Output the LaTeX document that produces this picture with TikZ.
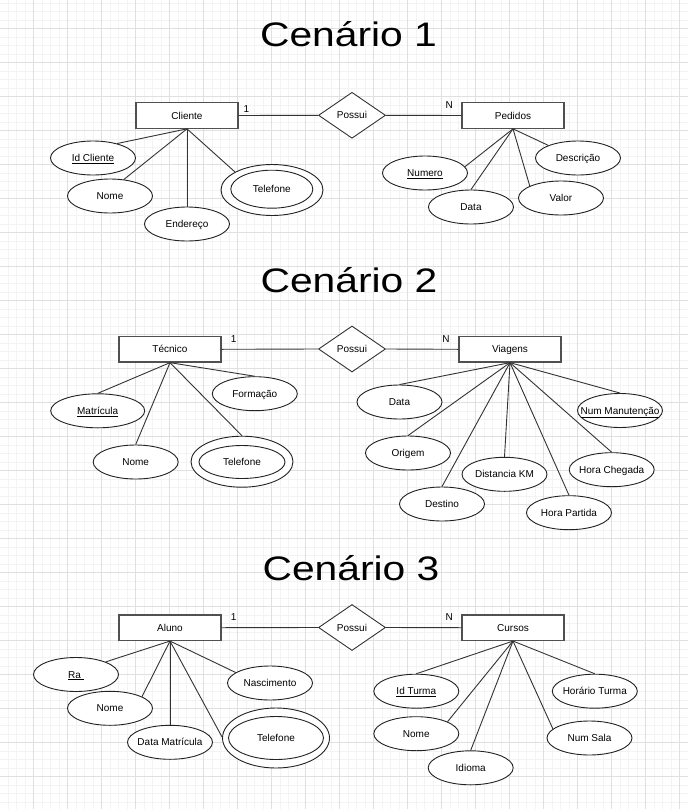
\documentclass[tikz,border=0pt]{standalone}
\usepackage{fontspec}
\setmainfont{Liberation Sans}
\usetikzlibrary{shapes.geometric}
\definecolor{majg}{HTML}{E0E0E0}
\definecolor{ming}{HTML}{F3F3F3}
\definecolor{linec}{HTML}{333333}
\definecolor{entc}{HTML}{505050}
\definecolor{attc}{HTML}{222222}
\newcommand\zb[1]{\makebox[0pt]{#1}}
\begin{document}
\begin{tikzpicture}[x=1pt,y=-1pt,
  ent/.style={rectangle, draw=entc, line width=1.2pt, minimum width=102pt, minimum height=25.5pt, inner sep=0pt, fill=white, font=\fontsize{10}{12}\selectfont, text height=7.2pt, text depth=0pt},
  rel/.style={diamond, draw=linec, line width=0.9pt, minimum width=67pt, minimum height=46pt, inner sep=0pt, fill=white, font=\fontsize{10}{12}\selectfont, text height=7.2pt, text depth=0pt},
  att/.style={ellipse, draw=attc, line width=0.9pt, minimum width=85pt, minimum height=34pt, inner sep=0pt, fill=white, font=\fontsize{10}{12}\selectfont, text height=7.2pt, text depth=0pt},
  card/.style={inner sep=0pt, font=\fontsize{10}{12}\selectfont, text height=7.2pt, text depth=0pt},
  ttl/.style={inner sep=0pt, anchor=base, font=\fontsize{34}{40}\selectfont},
  conn/.style={draw=linec, line width=0.9pt}]
\useasboundingbox (0,0) rectangle (688,809);
\fill[white] (0,0) rectangle (688,809);
% grid
\foreach \i in {0,...,81} \draw[ming, line width=0.6pt] ({-0.7+8.5*\i},0) -- ({-0.7+8.5*\i},809);
\foreach \i in {0,...,96} \draw[ming, line width=0.6pt] (0,{-5.7+8.5*\i}) -- (688,{-5.7+8.5*\i});
\foreach \i in {1,...,20} \draw[majg, line width=0.8pt] ({-0.7+34*\i},0) -- ({-0.7+34*\i},809);
\foreach \i in {1,...,24} \draw[majg, line width=0.8pt] (0,{-5.7+34*\i}) -- (688,{-5.7+34*\i});

% titles
\node[ttl] (t1) at (348.5,46.7) {\scalebox{1.2}[1]{Cenário 1}};
\node[ttl] (t2) at (349,292.5) {\scalebox{1.2}[1]{Cenário 2}};
\node[ttl] (t3) at (351,580.5) {\scalebox{1.2}[1]{Cenário 3}};

% ---------- Scenario 1
\node[ent] (cli) at (187,115.5) {Cliente};
\node[rel] (pos1) at (352,115.3) {Possui};
\node[ent] (ped) at (513,115.5) {Pedidos};
\node[card] (c1) at (246.5,108.5) {1};
\node[card] (n1) at (449.3,104.5) {N};
\node[att] (idc) at (93,158) {\zb{\underline{Id Cliente}}};
\node[att] (nom1) at (110,196) {\zb{Nome}};
\node[att] (end1) at (187,224) {\zb{Endereço}};
\node[att, minimum width=102pt, minimum height=51pt] (tel1) at (272,190) {};
\node[att, minimum width=82pt, minimum height=38pt] (tel1i) at (271.8,189.2) {\zb{Telefone}};
\node[att] (num) at (425,173) {\zb{\underline{Numero}}};
\node[att] (dat1) at (471,207) {\zb{Data}};
\node[att] (val) at (561,198) {\zb{Valor}};
\node[att] (desc) at (578,158) {\zb{Descrição}};
\draw[conn] (cli.east) -- (pos1.west);
\draw[conn] (pos1.east) -- (ped.west);
\draw[conn] (cli.south) -- (idc.31);
\draw[conn] (cli.south) -- (nom1.50);
\draw[conn] (cli.south) -- (end1.north);
\draw[conn] (cli.south) -- (tel1.154);
\draw[conn] (ped.south) -- (num.9);
\draw[conn] (ped.south) -- (dat1.north);
\draw[conn] (ped.south) -- (val.159);
\draw[conn] (ped.south) -- (desc.157);

% ---------- Scenario 2
\node[ent] (tec) at (170,349.3) {Técnico};
\node[rel] (pos2) at (352,349) {Possui};
\node[ent] (via) at (510,349.3) {Viagens};
\node[card] (c2) at (233.7,338.5) {1};
\node[card] (n2) at (446,339) {N};
\node[att, minimum width=94pt] (mat) at (97.7,410.8) {\zb{\underline{Matrícula}}};
\node[att] (nom2) at (135.7,462) {\zb{Nome}};
\node[att] (form) at (254.8,393.7) {\zb{Formação}};
\node[att, minimum width=102pt, minimum height=51pt] (tel2) at (242,461.7) {};
\node[att, minimum width=86pt, minimum height=33pt] (tel2i) at (242,462) {\zb{Telefone}};
\node[att] (dat2) at (399.5,402) {\zb{Data}};
\node[att] (ori) at (408,453) {\zb{Origem}};
\node[att] (des) at (442,504) {\zb{Destino}};
\node[att] (dist) at (504.5,474.3) {\zb{Distancia KM}};
\node[att] (hp) at (569,512.7) {\zb{Hora Partida}};
\node[att] (hc) at (611.7,469.7) {\zb{Hora Chegada}};
\node[att] (nm) at (620,410.5) {\zb{\underline{Num Manutenção}}};
\draw[conn] (tec.east) -- (pos2.west);
\draw[conn] (pos2.east) -- (via.west);
\draw[conn] (tec.south) -- (mat.north);
\draw[conn] (tec.south) -- (nom2.north);
\draw[conn] (tec.south) -- (form.north);
\draw[conn] (tec.south) -- (tel2.north);
\draw[conn] (via.south) -- (dat2.north);
\draw[conn] (via.south) -- (ori.north);
\draw[conn] (via.south) -- (des.north);
\draw[conn] (via.south) -- (dist.north);
\draw[conn] (via.south) -- (hp.north);
\draw[conn] (via.south) -- (hc.north);
\draw[conn] (via.south) -- (nm.north);

% ---------- Scenario 3
\node[ent] (alu) at (170,627.7) {Aluno};
\node[rel] (pos3) at (352,627.5) {Possui};
\node[ent] (cur) at (513,627.7) {Cursos};
\node[card] (c3) at (233.7,617.3) {1};
\node[card] (n3) at (449.3,617.3) {N};
\node[att] (ra) at (76,674.5) {\zb{\underline{Ra\ }}};
\node[att] (nom3) at (110,708.3) {\zb{Nome}};
\node[att] (dm) at (170,742.3) {\zb{Data Matrícula}};
\node[att] (nasc) at (270,683) {\zb{Nascimento}};
\node[att, minimum width=107pt, minimum height=60pt] (tel3) at (276,738) {};
\node[att, minimum width=95pt, minimum height=43pt] (tel3i) at (276,738) {\zb{Telefone}};
\node[att] (idt) at (416.3,691.2) {\zb{\underline{Id Turma}}};
\node[att] (nom4) at (416.3,733.7) {\zb{Nome}};
\node[att] (idi) at (470.7,767.8) {\zb{Idioma}};
\node[att] (ns) at (589.5,738) {\zb{Num Sala}};
\node[att] (ht) at (594.8,691.2) {\zb{Horário Turma}};
\draw[conn] (alu.east) -- (pos3.west);
\draw[conn] (pos3.east) -- (cur.west);
\draw[conn] (alu.south) -- (ra.23);
\draw[conn] (alu.south) -- (nom3.20);
\draw[conn] (alu.south) -- (dm.north);
\draw[conn] (alu.south) -- (nasc.163);
\draw[conn] (alu.south) -- (tel3.179);
\draw[conn] (cur.south) -- (idt.north);
\draw[conn] (cur.south) -- (nom4.21);
\draw[conn] (cur.south) -- (idi.north);
\draw[conn] (cur.south) -- (ns.166);
\draw[conn] (cur.south) -- (ht.north);
\end{tikzpicture}
\end{document}
